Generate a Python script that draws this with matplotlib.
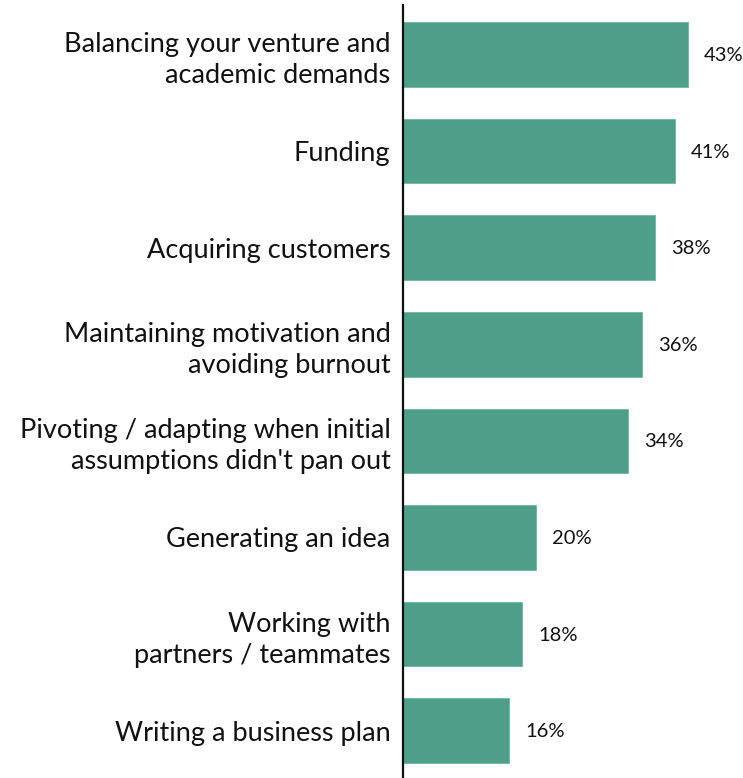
import matplotlib
matplotlib.use('Agg')
import matplotlib.pyplot as plt

categories = [
    'Balancing your venture and\nacademic demands',
    'Funding',
    'Acquiring customers',
    'Maintaining motivation and\navoiding burnout',
    "Pivoting / adapting when initial\nassumptions didn't pan out",
    'Generating an idea',
    'Working with\npartners / teammates',
    'Writing a business plan',
]
values = [43, 41, 38, 36, 34, 20, 18, 16]
value_labels = ['43%', '41%', '38%', '36%', '34%', '20%', '18%', '16%']

plt.rcParams['font.family'] = ['Lato', 'DejaVu Sans']

fig = plt.figure(figsize=(7.43, 7.78), dpi=100)
ax = fig.add_axes([403 / 743, 0, 340 / 743, 773 / 778])

y = list(range(len(categories)))
bars = ax.barh(y, values, height=0.67, color='#4e9f8a', edgecolor='#6fb5a2', linewidth=0.6)

for b, lab in zip(bars, value_labels):
    ax.annotate(lab, (b.get_width(), b.get_y() + b.get_height() / 2),
                xytext=(16, -1), textcoords='offset pixels',
                ha='left', va='center', fontsize=14.5, color='#111111')

ax.set_xlim(0, 340 / 6.63)
ax.set_ylim(7.49, -0.512)
ax.set_yticks(y)
ax.set_yticklabels(categories, fontsize=19.5, color='#111111', linespacing=1.3)
ax.tick_params(axis='y', length=0, pad=9)
ax.set_xticks([])

for s in ['top', 'right', 'bottom']:
    ax.spines[s].set_visible(False)
ax.spines['left'].set_linewidth(1.6)
ax.spines['left'].set_color('#111111')

fig.savefig('out.png', dpi=100)
